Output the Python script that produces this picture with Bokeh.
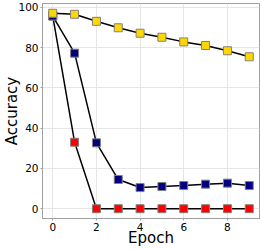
from bokeh.plotting import figure
from bokeh.models import Range1d, FixedTicker
from bokeh.embed import file_html
from bokeh.resources import INLINE

epochs = list(range(10))
acc_red = [95.6, 33.0, 0, 0, 0, 0, 0, 0, 0, 0]
acc_blue = [95.6, 77.2, 32.7, 14.5, 10.5, 11.0, 11.5, 12.2, 12.7, 11.5]
acc_yellow = [97.0, 96.5, 93.0, 89.8, 87.1, 85.1, 82.8, 81.0, 78.4, 75.4]
x_ticks = [0, 2, 4, 6, 8]
y_ticks = [0, 20, 40, 60, 80, 100]

p = figure(width=260, height=250, output_backend="svg", toolbar_location=None,
           x_range=Range1d(-0.47, 9.47), y_range=Range1d(-4.85, 101.85),
           min_border_left=41, min_border_right=1, min_border_top=3, min_border_bottom=32)

p.outline_line_color = "#a0a0a0"
p.outline_line_width = 1
p.background_fill_color = "white"
p.border_fill_color = "white"

for ax in (p.xaxis[0], p.yaxis[0]):
    ax.axis_line_color = "#a0a0a0"
    ax.major_tick_line_color = "#a0a0a0"
    ax.major_tick_out = 2
    ax.major_tick_in = 0
    ax.minor_tick_line_color = None
    ax.major_label_text_font = "DejaVu Sans"
    ax.major_label_text_font_size = "10.5px"
    ax.major_label_text_color = "black"
    ax.axis_label_text_font = "DejaVu Sans"
    ax.axis_label_text_font_size = "15px"
    ax.axis_label_text_font_style = "normal"
    ax.axis_label_text_color = "black"

p.xaxis.major_label_standoff = 2
p.xaxis.axis_label_standoff = -5
p.yaxis.major_label_standoff = 2
p.yaxis.axis_label_standoff = -6

p.xaxis.ticker = FixedTicker(ticks=x_ticks)
p.yaxis.ticker = FixedTicker(ticks=y_ticks)
p.xaxis.axis_label = "Epoch"
p.yaxis.axis_label = "Accuracy"

p.xgrid.ticker = FixedTicker(ticks=x_ticks)
p.ygrid.ticker = FixedTicker(ticks=y_ticks)
p.grid.grid_line_color = "#e6e6e6"
p.grid.grid_line_width = 1

series = [(acc_red, "#ff0000"), (acc_blue, "#000080"), (acc_yellow, "#ffd700")]
for ys, col in series:
    p.line(epochs, ys, line_color="black", line_width=1.5)
    p.scatter(epochs, ys, marker="square", size=8, fill_color=col,
              line_color="#808080", line_width=1)

open("out.html", "w").write(file_html(p, INLINE))
